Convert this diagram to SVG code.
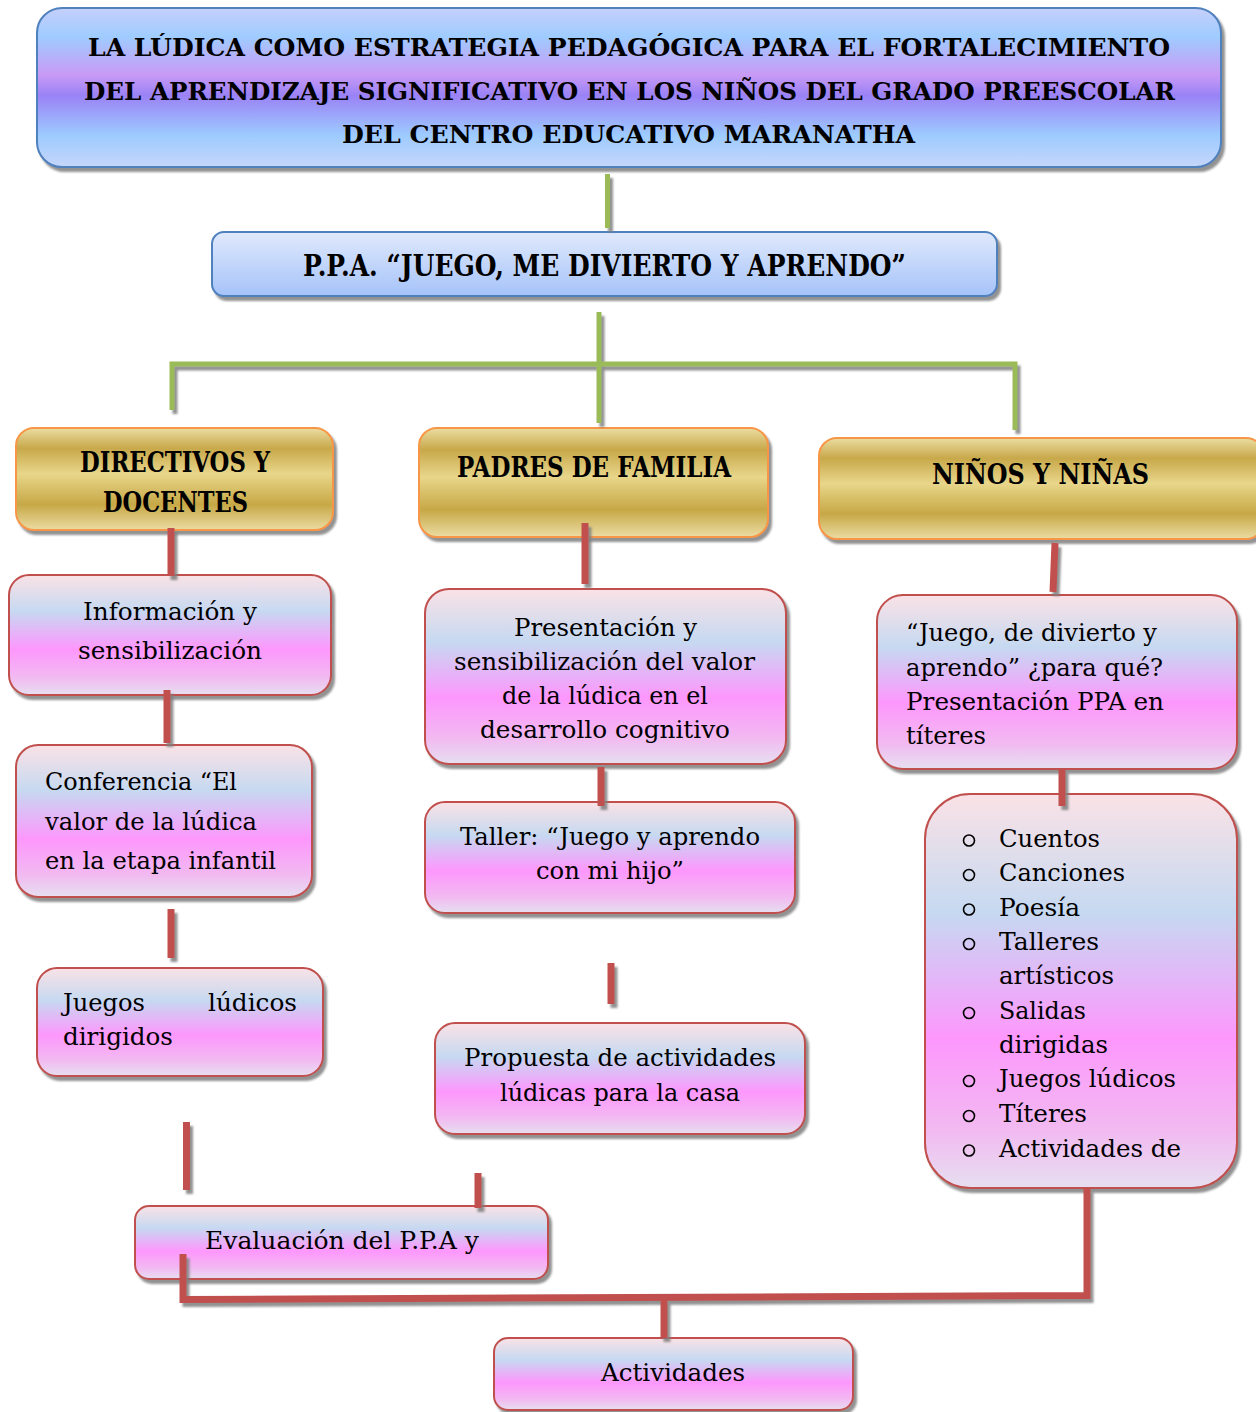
<svg xmlns="http://www.w3.org/2000/svg" width="1256" height="1412" viewBox="0 0 1256 1412">
<defs>
<linearGradient id="gTitle" x1="0" y1="0" x2="0" y2="1">
<stop offset="0" stop-color="#c6cffb"/>
<stop offset="0.18" stop-color="#9fccff"/>
<stop offset="0.42" stop-color="#c99af5"/>
<stop offset="0.55" stop-color="#9a82f6"/>
<stop offset="0.8" stop-color="#9dcbff"/>
<stop offset="1" stop-color="#c6d6fa"/>
</linearGradient>
<linearGradient id="gPPA" x1="0" y1="0" x2="0" y2="1">
<stop offset="0" stop-color="#e0e9fc"/>
<stop offset="1" stop-color="#a5c3f9"/>
</linearGradient>
<linearGradient id="gGold" x1="0" y1="0" x2="0" y2="1">
<stop offset="0" stop-color="#ebdda2"/>
<stop offset="0.2" stop-color="#c8a84a"/>
<stop offset="0.45" stop-color="#e8d68a"/>
<stop offset="0.75" stop-color="#c7a846"/>
<stop offset="1" stop-color="#ebdca3"/>
</linearGradient>
<linearGradient id="gPink" x1="0" y1="0" x2="0" y2="1">
<stop offset="0" stop-color="#fae2e6"/>
<stop offset="0.3" stop-color="#c6d9f1"/>
<stop offset="0.62" stop-color="#fd97fd"/>
<stop offset="0.85" stop-color="#f2b9f1"/>
<stop offset="1" stop-color="#e6dff0"/>
</linearGradient>
<filter id="sh" x="-10%" y="-10%" width="120%" height="130%">
<feDropShadow dx="3" dy="4" stdDeviation="1.3" flood-color="#7f7f7f" flood-opacity="0.85"/>
</filter>
</defs>
<style>
.title{fill:url(#gTitle);stroke:#4f81bd;stroke-width:2;filter:url(#sh)}
.ppa{fill:url(#gPPA);stroke:#4f81bd;stroke-width:2;filter:url(#sh)}
.gold{fill:url(#gGold);stroke:#f79646;stroke-width:2;filter:url(#sh)}
.pink{fill:url(#gPink);stroke:#c0504d;stroke-width:2;filter:url(#sh)}
text{font-family:"DejaVu Serif","Liberation Serif",serif;fill:#000}
.b{font-weight:bold}
.t{font-size:25px}
.h{font-size:27px}
.p{font-size:29px}
.n{font-size:25px}
.c{text-anchor:middle}
.gl{stroke:#9bbb59;stroke-width:5;fill:none}
.rl{stroke:#c0504d;stroke-width:7;fill:none}
.bul{fill:none;stroke:#000;stroke-width:1.6}
</style>

<g id="title">
<rect class="title" x="37" y="8" width="1184" height="159" rx="25"/>
<text class="b t c" x="629" y="56" textLength="1082" lengthAdjust="spacingAndGlyphs">LA LÚDICA COMO ESTRATEGIA PEDAGÓGICA PARA EL FORTALECIMIENTO</text>
<text class="b t c" x="629.5" y="100" textLength="1091" lengthAdjust="spacingAndGlyphs">DEL APRENDIZAJE SIGNIFICATIVO EN LOS NIÑOS DEL GRADO PREESCOLAR</text>
<text class="b t c" x="628.5" y="143" textLength="573" lengthAdjust="spacingAndGlyphs">DEL CENTRO EDUCATIVO MARANATHA</text>
</g>

<g id="ppa">
<rect class="ppa" x="212" y="232" width="785" height="64" rx="12"/>
<text class="b p c" x="604.5" y="276" textLength="603" lengthAdjust="spacingAndGlyphs">P.P.A. “JUEGO, ME DIVIERTO Y APRENDO”</text>
</g>

<g id="directivos">
<rect class="gold" x="16" y="428" width="317" height="102" rx="18"/>
<text class="b h c" x="175" y="472" textLength="190" lengthAdjust="spacingAndGlyphs">DIRECTIVOS Y</text>
<text class="b h c" x="175.5" y="512" textLength="145" lengthAdjust="spacingAndGlyphs">DOCENTES</text>
</g>

<g id="padres">
<rect class="gold" x="419" y="428" width="349" height="109" rx="18"/>
<text class="b h c" x="594" y="477" textLength="274" lengthAdjust="spacingAndGlyphs">PADRES DE FAMILIA</text>
</g>

<g id="ninos">
<rect class="gold" x="819" y="438" width="445" height="101" rx="18"/>
<text class="b h c" x="1040.5" y="484" textLength="217" lengthAdjust="spacingAndGlyphs">NIÑOS Y NIÑAS</text>
</g>

<g id="informacion">
<rect class="pink" x="9" y="575" width="322" height="120" rx="20"/>
<text class="n c" x="170" y="620" textLength="174" lengthAdjust="spacingAndGlyphs">Información y</text>
<text class="n c" x="170" y="659" textLength="184" lengthAdjust="spacingAndGlyphs">sensibilización</text>
</g>

<g id="conferencia">
<rect class="pink" x="16" y="745" width="296" height="152" rx="22"/>
<text class="n" x="45" y="790" textLength="192" lengthAdjust="spacingAndGlyphs">Conferencia “El</text>
<text class="n" x="45" y="830" textLength="212" lengthAdjust="spacingAndGlyphs">valor de la lúdica</text>
<text class="n" x="45" y="869" textLength="231" lengthAdjust="spacingAndGlyphs">en la etapa infantil</text>
</g>

<g id="juegos">
<rect class="pink" x="37" y="968" width="286" height="108" rx="20"/>
<text class="n" x="63" y="1011" textLength="82" lengthAdjust="spacingAndGlyphs">Juegos</text>
<text class="n" x="208" y="1011" textLength="89" lengthAdjust="spacingAndGlyphs">lúdicos</text>
<text class="n" x="63" y="1045" textLength="110" lengthAdjust="spacingAndGlyphs">dirigidos</text>
</g>

<g id="presentacion">
<rect class="pink" x="425" y="589" width="361" height="175" rx="24"/>
<text class="n c" x="605.5" y="636" textLength="183" lengthAdjust="spacingAndGlyphs">Presentación y</text>
<text class="n c" x="604.5" y="670" textLength="301" lengthAdjust="spacingAndGlyphs">sensibilización del valor</text>
<text class="n c" x="605" y="704" textLength="206" lengthAdjust="spacingAndGlyphs">de la lúdica en el</text>
<text class="n c" x="605" y="738" textLength="250" lengthAdjust="spacingAndGlyphs">desarrollo cognitivo</text>
</g>

<g id="taller">
<rect class="pink" x="425" y="802" width="370" height="111" rx="20"/>
<text class="n c" x="610" y="845" textLength="300" lengthAdjust="spacingAndGlyphs">Taller: “Juego y aprendo</text>
<text class="n c" x="610" y="879" textLength="148" lengthAdjust="spacingAndGlyphs">con mi hijo”</text>
</g>

<g id="propuesta">
<rect class="pink" x="435" y="1023" width="370" height="111" rx="20"/>
<text class="n c" x="620" y="1066" textLength="312" lengthAdjust="spacingAndGlyphs">Propuesta de actividades</text>
<text class="n c" x="620" y="1101" textLength="240" lengthAdjust="spacingAndGlyphs">lúdicas para la casa</text>
</g>

<g id="juego-titeres">
<rect class="pink" x="877" y="595" width="360" height="174" rx="26"/>
<text class="n" x="906" y="641" textLength="251" lengthAdjust="spacingAndGlyphs">“Juego, de divierto y</text>
<text class="n" x="906" y="676" textLength="257" lengthAdjust="spacingAndGlyphs">aprendo” ¿para qué?</text>
<text class="n" x="906" y="710" textLength="258" lengthAdjust="spacingAndGlyphs">Presentación PPA en</text>
<text class="n" x="906" y="744" textLength="80" lengthAdjust="spacingAndGlyphs">títeres</text>
</g>

<g id="lista">
<rect class="pink" x="925" y="794" width="312" height="394" rx="45"/>
<circle class="bul" cx="969" cy="840.5" r="5.5"/>
<circle class="bul" cx="969" cy="875" r="5.5"/>
<circle class="bul" cx="969" cy="909.5" r="5.5"/>
<circle class="bul" cx="969" cy="944" r="5.5"/>
<circle class="bul" cx="969" cy="1013" r="5.5"/>
<circle class="bul" cx="969" cy="1081" r="5.5"/>
<circle class="bul" cx="969" cy="1116" r="5.5"/>
<circle class="bul" cx="969" cy="1150.5" r="5.5"/>
<text class="n" x="999" y="847" textLength="101" lengthAdjust="spacingAndGlyphs">Cuentos</text>
<text class="n" x="999" y="881" textLength="126" lengthAdjust="spacingAndGlyphs">Canciones</text>
<text class="n" x="999" y="916" textLength="81" lengthAdjust="spacingAndGlyphs">Poesía</text>
<text class="n" x="999" y="950" textLength="100" lengthAdjust="spacingAndGlyphs">Talleres</text>
<text class="n" x="999" y="984" textLength="115" lengthAdjust="spacingAndGlyphs">artísticos</text>
<text class="n" x="999" y="1019" textLength="87" lengthAdjust="spacingAndGlyphs">Salidas</text>
<text class="n" x="999" y="1053" textLength="109" lengthAdjust="spacingAndGlyphs">dirigidas</text>
<text class="n" x="999" y="1087" textLength="177" lengthAdjust="spacingAndGlyphs">Juegos lúdicos</text>
<text class="n" x="999" y="1122" textLength="88" lengthAdjust="spacingAndGlyphs">Títeres</text>
<text class="n" x="999" y="1157" textLength="182" lengthAdjust="spacingAndGlyphs">Actividades de</text>
</g>

<g id="evaluacion">
<rect class="pink" x="135" y="1206" width="413" height="73" rx="14"/>
<text class="n" x="205" y="1249" textLength="274" lengthAdjust="spacingAndGlyphs">Evaluación del P.P.A y</text>
</g>

<g id="actividades">
<rect class="pink" x="494" y="1338" width="359" height="72" rx="14"/>
<text class="n c" x="673" y="1381" textLength="144" lengthAdjust="spacingAndGlyphs">Actividades</text>
</g>

<g id="connectors" filter="url(#sh)">
<path class="gl" d="M607.5 174 V228"/>
<path class="gl" d="M599 312 V423"/>
<path class="gl" d="M172 410 V364 H1015 V430"/>
<path class="rl" d="M171 528 V576"/>
<path class="rl" d="M167 690 V743"/>
<path class="rl" d="M171 909 V958"/>
<path class="rl" d="M186.5 1122 V1190"/>
<path class="rl" d="M585 523 V584"/>
<path class="rl" d="M601 767 V806"/>
<path class="rl" d="M611 963 V1004"/>
<path class="rl" d="M478 1173 V1208"/>
<path class="rl" d="M1055 543 L1053 592"/>
<path class="rl" d="M1062 769 V806"/>
<path class="rl" d="M1087 1188 V1295.5 L183 1299.5 V1254"/>
<path class="rl" d="M664 1297 V1338"/>
</g>
</svg>
